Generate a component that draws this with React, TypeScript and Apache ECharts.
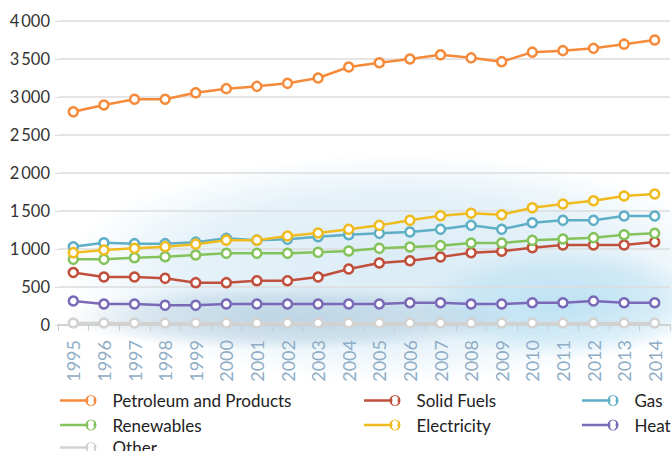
import React, { useEffect, useRef } from "react";
import * as echarts from "echarts";

const years = ["1995","1996","1997","1998","1999","2000","2001","2002","2003","2004","2005","2006","2007","2008","2009","2010","2011","2012","2013","2014"];
const petroleum = [2805, 2895, 2970, 2970, 3055, 3110, 3140, 3180, 3250, 3395, 3450, 3500, 3555, 3515, 3465, 3590, 3610, 3640, 3695, 3750];
const solidFuels = [690, 632, 632, 614, 557, 557, 583, 583, 632, 737, 816, 846, 895, 952, 970, 1017, 1053, 1053, 1053, 1092];
const gas = [1030, 1083, 1070, 1070, 1090, 1140, 1116, 1127, 1162, 1188, 1206, 1224, 1259, 1311, 1259, 1346, 1377, 1377, 1434, 1434];
const renewables = [864, 864, 886, 899, 921, 943, 943, 943, 956, 974, 1009, 1026, 1044, 1079, 1079, 1114, 1132, 1149, 1188, 1206];
const electricity = [952, 987, 1009, 1031, 1064, 1116, 1116, 1171, 1210, 1259, 1311, 1377, 1438, 1470, 1451, 1543, 1592, 1635, 1697, 1724];
const heat = [316, 276, 276, 259, 259, 276, 276, 276, 276, 276, 276, 293, 293, 276, 276, 293, 293, 316, 293, 293];
const other = [26, 26, 26, 26, 26, 26, 26, 26, 26, 26, 26, 26, 26, 26, 26, 26, 26, 26, 26, 26];

const seriesNames = ["Petroleum and Products", "Solid Fuels", "Gas", "Renewables", "Electricity", "Heat", "Other"];
const seriesColors = ["#F58A3A", "#C04F3B", "#5EAEC6", "#84C35B", "#F0BB1F", "#7A69B7", "#D2D2D2"];
const seriesData = [petroleum, solidFuels, gas, renewables, electricity, heat, other];

const legendCols = [
  { names: ["Petroleum and Products", "Renewables"], left: 60, top: 392 },
  { names: ["Other"], left: 60, top: 439 },
  { names: ["Solid Fuels", "Electricity"], left: 364, top: 392 },
  { names: ["Gas", "Heat"], left: 582, top: 392 },
];

const ICON =
  "path://M0,4.25L27,4.25L27,6.75L0,6.75Z M25.5,5.5A5.5,5.5 0 1 1 36.5,5.5A5.5,5.5 0 1 1 25.5,5.5Z M28.5,5.5A3,3 0 1 0 33.5,5.5A3,3 0 1 0 28.5,5.5Z";

const FONT = "Lato";

function radial(color: string, alpha: number, mid = 0.6) {
  return {
    type: "radial",
    x: 0.5,
    y: 0.5,
    r: 0.5,
    colorStops: [
      { offset: 0, color: `rgba(${color},${alpha})` },
      { offset: 0.65, color: `rgba(${color},${alpha * mid})` },
      { offset: 1, color: `rgba(${color},0)` },
    ],
  };
}

export default function App() {
  const ref = useRef<HTMLDivElement>(null);
  useEffect(() => {
    if (!ref.current) return;
    const chart = echarts.init(ref.current, null, { renderer: "svg" });
    chart.setOption({
      animation: false,
      backgroundColor: "#ffffff",
      graphic: [
        { type: "ellipse", z: -10, silent: true, shape: { cx: 400, cy: 268, rx: 340, ry: 115 }, style: { fill: radial("200,226,241", 0.65, 0.7) } },
        { type: "ellipse", z: -9, silent: true, shape: { cx: 565, cy: 303, rx: 150, ry: 55 }, style: { fill: radial("160,214,240", 0.55) } },
        { type: "ellipse", z: -9, silent: true, shape: { cx: 290, cy: 318, rx: 230, ry: 32 }, style: { fill: radial("125,168,198", 0.38) } },
      ],
      grid: { left: 58, right: 2, top: 21, bottom: 126, containLabel: false },
      legend: legendCols.map((col) => ({
        orient: "vertical",
        left: col.left,
        top: col.top,
        padding: 0,
        itemGap: 7.5,
        itemWidth: 36.5,
        itemHeight: 11,
        icon: ICON,
        data: col.names.map((n) => ({
          name: n,
          itemStyle: { color: seriesColors[seriesNames.indexOf(n)], borderWidth: 0 },
        })),
        textStyle: { fontFamily: FONT, fontSize: 17, color: "#222", lineHeight: 16, padding: [0, 0, 0, 11] },
      })),
      xAxis: {
        type: "category",
        data: years,
        boundaryGap: true,
        axisLine: { lineStyle: { color: "#cccccc", width: 1.5 } },
        axisTick: { show: true, length: 6, lineStyle: { color: "#cccccc" } },
        axisLabel: { rotate: 90, margin: 15, fontFamily: FONT, fontSize: 18, color: "#8FADC6" },
      },
      yAxis: {
        type: "value",
        min: 0,
        max: 4000,
        interval: 500,
        axisLine: { show: false },
        axisTick: { show: true, length: 3, lineStyle: { color: "#dddddd" } },
        splitLine: { lineStyle: { color: "#dcdcdc", width: 1.5 } },
        axisLabel: {
          margin: 8,
          fontFamily: FONT,
          fontSize: 16.5,
          color: "#333",
          formatter: (v: number) => (v >= 1000 ? `${Math.floor(v / 1000)}\u2009${String(v % 1000).padStart(3, "0")}` : String(v)),
        },
      },
      series: seriesNames.map((name, i) => ({
        name,
        type: "line",
        data: seriesData[i],
        color: seriesColors[i],
        symbol: "circle",
        symbolSize: 9,
        lineStyle: { width: 2.5, color: seriesColors[i] },
        itemStyle: { color: "#ffffff", borderColor: seriesColors[i], borderWidth: 2.5 },
        z: i === 6 ? 5 : 10,
      })),
    });
    return () => chart.dispose();
  }, []);
  return <div ref={ref} style={{ width: 672, height: 451, position: "absolute", left: 0, top: 0 }} />;
}
